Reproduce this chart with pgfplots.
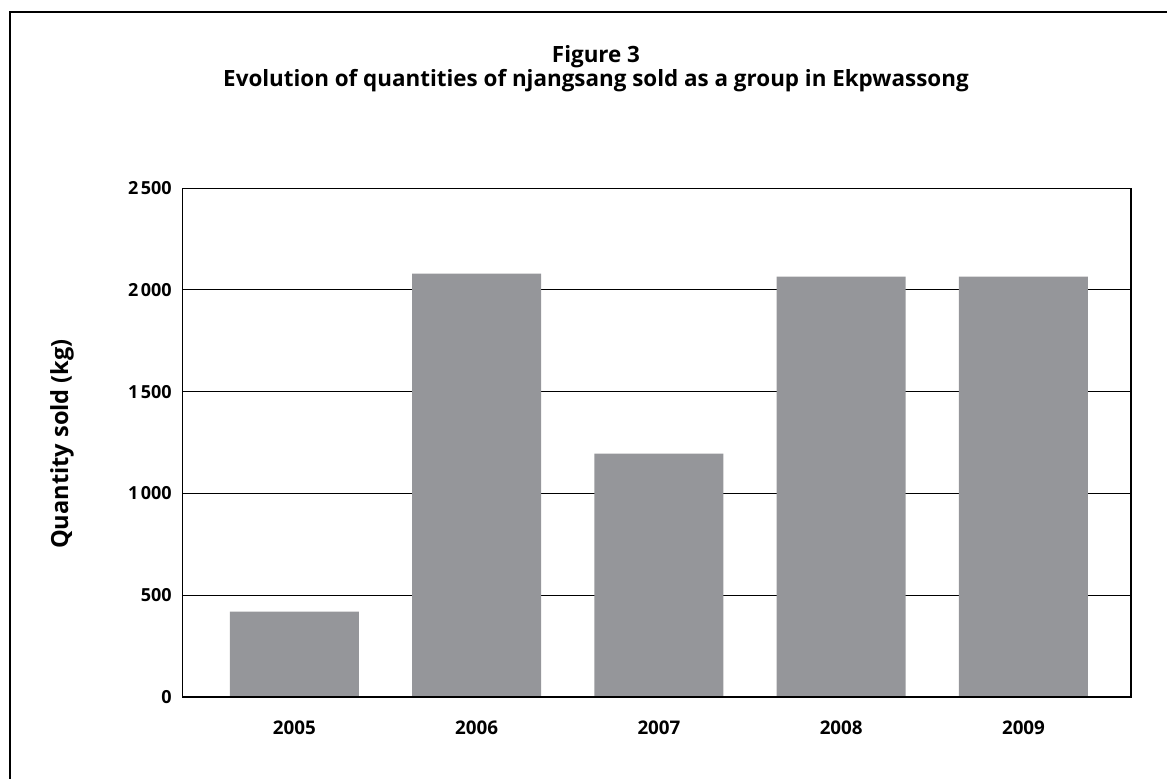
\documentclass[border=0pt]{standalone}
\usepackage{fontspec}
\setmainfont{Open Sans}
\usepackage{pgfplots}
\pgfplotsset{compat=1.18}
\definecolor{bargray}{RGB}{149,150,154}

\begin{document}
\begin{tikzpicture}
% page and frame
\path[use as bounding box] (0,0) rectangle (583.5pt,-389pt);
\draw[line width=0.6pt] (5pt,-395pt) -- (5pt,-6pt) -- (590pt,-6pt);

% title
\node[anchor=base, font=\bfseries\fontsize{11.2}{13}\selectfont] at (298pt,-31pt) {Figure 3};
\node[anchor=base, font=\bfseries\fontsize{11.2}{13}\selectfont] at (298pt,-43pt)
  {Evolution of quantities of njangsang sold as a group in Ekpwassong};

% y axis title
\node[rotate=90, anchor=center, font=\bfseries\fontsize{11.8}{13}\selectfont] at (31pt,-222pt)
  {Quantity sold (kg)};

\begin{axis}[
  at={(91pt,-348.5pt)}, anchor=south west,
  scale only axis,
  width=474.5pt, height=254.5pt,
  xmin=-0.617, xmax=4.59,
  ymin=0, ymax=2500,
  xtick={0,1,2,3,4},
  xticklabels={2005,2006,2007,2008,2009},
  ytick={0,500,1000,1500,2000,2500},
  ymajorgrids,
  grid style={black, line width=0.5pt},
  major tick length=0pt,
  axis line style={black, line width=0.5pt},
  /pgf/number format/assume math mode=true,
  /pgf/number format/1000 sep={\kern1.2pt},
  tick label style={font=\bfseries\fontsize{9}{10}\selectfont},
  yticklabel style={anchor=east, inner sep=0pt, xshift=-5pt},
  xticklabel style={anchor=base, inner sep=0pt, yshift=-18.5pt, font=\bfseries\fontsize{9.4}{10}\selectfont},
]
\addplot[ybar, bar width=64.5pt, fill=bargray, draw=none] coordinates {
  (0,420) (1,2080) (2,1195) (3,2065) (4,2065)
};
\draw[black, line width=1.1pt] (rel axis cs:0,0) -- (rel axis cs:1,0);
\draw[black, line width=0.8pt] (rel axis cs:1,0) -- (rel axis cs:1,1);
\end{axis}
\end{tikzpicture}
\end{document}
